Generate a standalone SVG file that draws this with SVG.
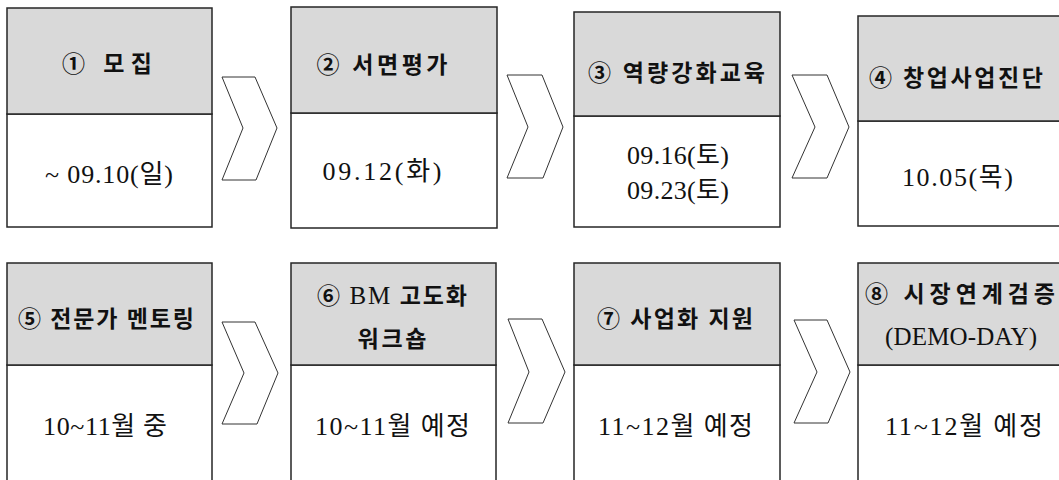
<svg xmlns="http://www.w3.org/2000/svg" width="1059" height="480" viewBox="0 0 1059 480">
  <style>
    .hd { fill: #d9d9d9; stroke: #262626; stroke-width: 1.5; }
    .bd { fill: #ffffff; stroke: #262626; stroke-width: 1.5; }
    .chev { fill: #ffffff; stroke: #333333; stroke-width: 1; stroke-linejoin: miter; }
    .t { font-family: "Liberation Serif", "Noto Sans CJK KR", serif; fill: #111111; text-anchor: middle; }
    .h { font-size: 23px; font-weight: bold; }
    .d { font-size: 26px; }
    .lat { font-weight: normal; font-size: 25px; }
  </style>
  <rect width="1059" height="480" fill="#ffffff"/>

  <g id="connectors">
    <polygon class="chev" points="222,77 255,77 277,128 256,180 222,180 243,128"/>
    <polygon class="chev" points="507,75 542,75 563,127 543,178 507,178 528,127"/>
    <polygon class="chev" points="792,75 827,75 849,127 827,178 792,178 815,127"/>
    <polygon class="chev" points="222,322 255,322 278,373 257,424 222,424 244,373"/>
    <polygon class="chev" points="508,319 542,319 565,372 543,423 508,423 529,372"/>
    <polygon class="chev" points="794,320 827,320 850,372 828,423 794,423 817,372"/>
  </g>

  <g id="step1">
    <rect class="bd" x="7" y="114" width="205" height="113"/>
    <rect class="hd" x="7" y="8" width="205" height="106"/>
    <text class="t h" x="107" y="72" textLength="90" lengthAdjust="spacing">① 모집</text>
    <text class="t d" x="109" y="183" textLength="128" lengthAdjust="spacing">~ 09.10(일)</text>
  </g>

  <g id="step2">
    <rect class="bd" x="291" y="113" width="206" height="115"/>
    <rect class="hd" x="291" y="7" width="206" height="106"/>
    <text class="t h" x="382" y="73" textLength="131" lengthAdjust="spacing">② 서면평가</text>
    <text class="t d" x="382" y="180" textLength="119" lengthAdjust="spacing">09.12(화)</text>
  </g>

  <g id="step3">
    <rect class="bd" x="574" y="116" width="206" height="111"/>
    <rect class="hd" x="574" y="12" width="206" height="104"/>
    <text class="t h" x="676.5" y="81" textLength="177" lengthAdjust="spacing">③ 역량강화교육</text>
    <text class="t d" x="678" y="164" textLength="102" lengthAdjust="spacing">09.16(토)</text>
    <text class="t d" x="678" y="199" textLength="102" lengthAdjust="spacing">09.23(토)</text>
  </g>

  <g id="step4">
    <rect class="bd" x="858" y="121" width="210" height="105"/>
    <rect class="hd" x="858" y="16" width="210" height="105"/>
    <text class="t h" x="956" y="86" textLength="174" lengthAdjust="spacing">④ 창업사업진단</text>
    <text class="t d" x="957.5" y="186" textLength="111" lengthAdjust="spacing">10.05(목)</text>
  </g>

  <g id="step5">
    <rect class="bd" x="7" y="365" width="205" height="130"/>
    <rect class="hd" x="7" y="263" width="205" height="102"/>
    <text class="t h" x="106" y="327" textLength="176" lengthAdjust="spacing">⑤ 전문가 멘토링</text>
    <text class="t d" x="105" y="435" textLength="124" lengthAdjust="spacing">10~11월 중</text>
  </g>

  <g id="step6">
    <rect class="bd" x="291" y="365" width="205" height="130"/>
    <rect class="hd" x="291" y="263" width="205" height="102"/>
    <text class="t h" x="392" y="304" textLength="150" lengthAdjust="spacing">⑥ <tspan class="lat">BM</tspan> 고도화</text>
    <text class="t h" x="392" y="347" textLength="69" lengthAdjust="spacing">워크숍</text>
    <text class="t d" x="392.5" y="435" textLength="155" lengthAdjust="spacing">10~11월 예정</text>
  </g>

  <g id="step7">
    <rect class="bd" x="574" y="365" width="206" height="130"/>
    <rect class="hd" x="574" y="263" width="206" height="102"/>
    <text class="t h" x="675" y="327" textLength="156" lengthAdjust="spacing">⑦ 사업화 지원</text>
    <text class="t d" x="675.5" y="435" textLength="155" lengthAdjust="spacing">11~12월 예정</text>
  </g>

  <g id="step8">
    <rect class="bd" x="858" y="365" width="210" height="130"/>
    <rect class="hd" x="858" y="263" width="210" height="102"/>
    <text class="t h" x="960" y="302" textLength="190" lengthAdjust="spacing">⑧ 시장연계검증</text>
    <text class="t h" x="961" y="345" textLength="152" lengthAdjust="spacing"><tspan class="lat">(DEMO-DAY)</tspan></text>
    <text class="t d" x="964" y="435" textLength="158" lengthAdjust="spacing">11~12월 예정</text>
  </g>
</svg>
